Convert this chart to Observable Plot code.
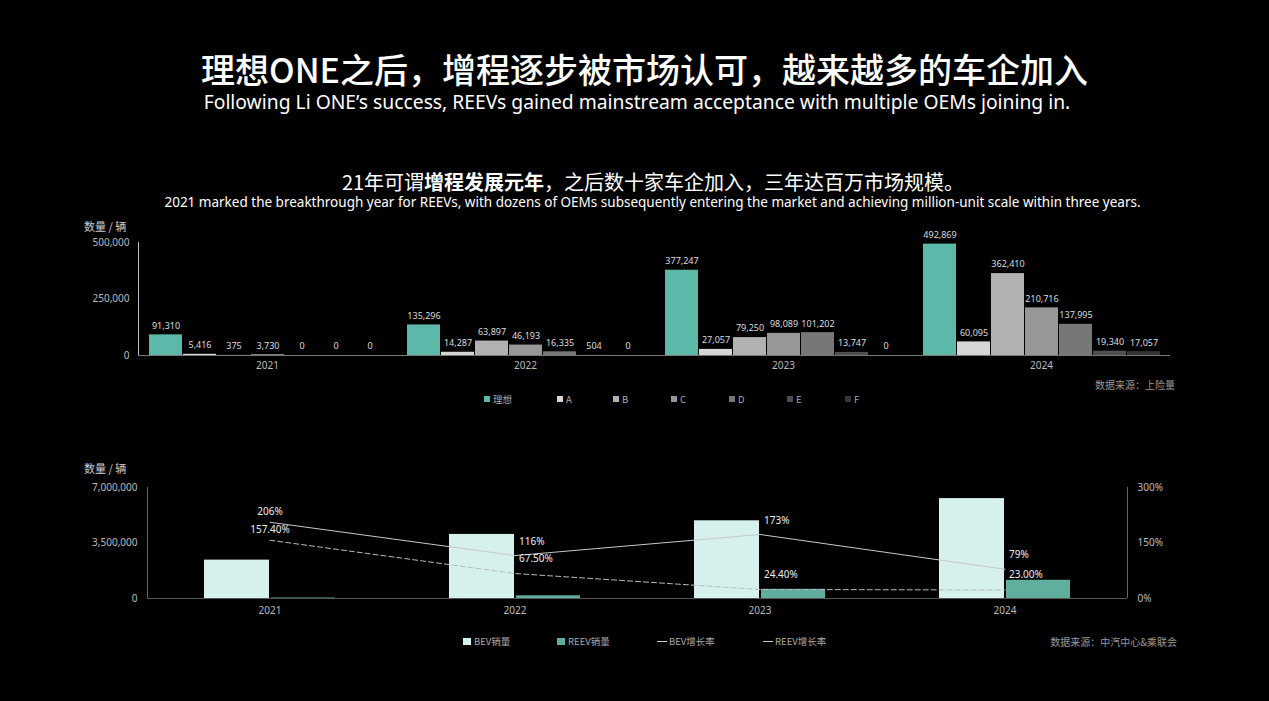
<!DOCTYPE html>
<html><head><meta charset="utf-8">
<script src="https://cdn.jsdelivr.net/npm/d3@7"></script>
<script src="https://cdn.jsdelivr.net/npm/@observablehq/plot@0.6"></script>
<style>
body{margin:0;background:#000;width:1269px;height:701px;overflow:hidden;position:relative;font-family:"Noto Sans CJK SC","Noto Sans",sans-serif;color:#fff}
.abs{position:absolute;white-space:nowrap}
#title{left:10px;width:1269px;top:52px;text-align:center;font-size:34px;line-height:34px;font-weight:500}
#sub{left:0;width:1274px;top:92px;text-align:center;font-size:19.3px;line-height:20px;font-family:"Noto Sans",sans-serif}
#head{left:0;width:1306px;top:171px;text-align:center;font-size:20px;line-height:22px}
#head b{font-weight:700}
#ehead{left:0;width:1305px;top:195px;text-align:center;font-size:13.5px;line-height:14px;font-family:"Noto Sans",sans-serif}
.ylab{font-size:11px;color:#ccc;left:84px}
.src{font-size:10px;color:#999;right:92px}
.leg{font-size:9.5px;color:#aaa;display:flex;align-items:center}
.sw{display:inline-block;width:6px;height:6px;margin-right:3px}
.ln{display:inline-block;width:10px;height:1px;background:#ccc;margin-right:2px}
#top{left:0;top:215px}
#bot{left:0;top:475px}
</style></head><body>
<div id="title" class="abs">理想ONE之后，增程逐步被市场认可，越来越多的车企加入</div>
<div id="sub" class="abs">Following Li ONE’s success, REEVs gained mainstream acceptance with multiple OEMs joining in.</div>
<div id="head" class="abs">21年可谓<b>增程发展元年</b>，之后数十家车企加入，三年达百万市场规模。</div>
<div id="ehead" class="abs">2021 marked the breakthrough year for REEVs, with dozens of OEMs subsequently entering the market and achieving million-unit scale within three years.</div>
<div class="abs ylab" style="top:218px">数量 / 辆</div>
<div class="abs ylab" style="top:460px">数量 / 辆</div>
<div id="top" class="abs"></div>
<div id="bot" class="abs"></div>
<div class="abs src" style="top:377px;right:94px">数据来源：上险量</div>
<div class="abs src" style="top:634px;right:92px">数据来源：中汽中心&amp;乘联会</div>
<script>
// ---- data: top chart (上险量) ----
const years = [2021, 2022, 2023, 2024];
const brands = ["理想", "A", "B", "C", "D", "E", "F"];
const brandColors = ["#5cb8a8", "#d6d6d6", "#b2b2b2", "#979797", "#777777", "#4f4f4f", "#363636"];
const sales2021 = [91310, 5416, 375, 3730, 0, 0, 0];
const sales2022 = [135296, 14287, 63897, 46193, 16335, 504, 0];
const sales2023 = [377247, 27057, 79250, 98089, 101202, 13747, 0];
const sales2024 = [492869, 60095, 362410, 210716, 137995, 19340, 17057];
const topTicks = [0, 250000, 500000];

// ---- data: bottom chart ----
const bevSales = [2420000, 4040000, 4900000, 6300000];
const reevSales = [30000, 170000, 580000, 1150000];
const bevGrowth = [206, 116, 173, 79];
const reevGrowth = [157.4, 67.5, 24.4, 23.0];
const bevGrowthLabels = ["206%", "116%", "173%", "79%"];
const reevGrowthLabels = ["157.40%", "67.50%", "24.40%", "23.00%"];
const leftTicks = [0, 3500000, 7000000];
const rightMax = 300;
const seriesNames = ["BEV销量", "REEV销量", "BEV增长率", "REEV增长率"];
const seriesColors = ["#d6f0ed", "#5fae9e", "#cccccc", "#cccccc"];

const fmt = d3.format(",");
const font = '"Noto Sans","Noto Sans CJK SC",sans-serif';

const allSales = [sales2021, sales2022, sales2023, sales2024];
const topData = years.flatMap((y, i) => brands.map((b, j) => ({year: y, brand: b, value: allSales[i][j]})));

const topChart = Plot.plot({
  width: 1269, height: 165,
  marginLeft: 137, marginRight: 98, marginTop: 27, marginBottom: 25,
  style: {background: "transparent", color: "#bbb", fontSize: "10px", fontFamily: font},
  fx: {domain: years, padding: 0, label: null, axis: "bottom", tickSize: 0, tickPadding: 6, tickFormat: "d"},
  x: {domain: brands, paddingInner: 0.04, paddingOuter: 0.255, axis: null},
  y: {domain: [0, 500000], ticks: topTicks, tickFormat: fmt, tickSize: 0, tickPadding: 9, label: null, line: true},
  color: {domain: brands, range: brandColors},
  marks: [
    Plot.barY(topData, {fx: "year", x: "brand", y: "value", fill: "brand"}),
    Plot.ruleY([0], {stroke: "#777"}),
    Plot.text(topData, {fx: "year", x: "brand", y: "value", text: d => fmt(d.value), dy: -9, fill: "#ddd", fontSize: 9})
  ]
});
document.getElementById("top").append(topChart);

const bottomData = years.map((y, i) => ({
  year: y, bev: bevSales[i], reev: reevSales[i],
  bevG: bevGrowth[i] / rightMax * leftTicks[2], reevG: reevGrowth[i] / rightMax * leftTicks[2],
  bevL: bevGrowthLabels[i], reevL: reevGrowthLabels[i], first: i === 0
}));

const botChart = Plot.plot({
  width: 1269, height: 150,
  marginLeft: 147, marginRight: 142, marginTop: 12, marginBottom: 27,
  style: {background: "transparent", color: "#bbb", fontSize: "10px", fontFamily: font},
  x: {domain: years, padding: 0, label: null},
  y: {domain: [0, leftTicks[2]], axis: null},
  marks: [
    Plot.axisX({tickSize: 0, tickPadding: 8, label: null, tickFormat: "d"}),
    Plot.axisY(leftTicks, {anchor: "left", tickFormat: fmt, tickSize: 0, tickPadding: 10, label: null}),
    Plot.axisY(leftTicks, {anchor: "right", tickFormat: d => Math.round(d / leftTicks[2] * rightMax) + "%", tickSize: 0, tickPadding: 10, label: null}),
    Plot.ruleX([years[0]], {y1: 0, y2: leftTicks[2], stroke: "#666", dx: -122.5}),
    Plot.ruleX([years[3]], {y1: 0, y2: leftTicks[2], stroke: "#666", dx: 122.5}),
    Plot.barY(bottomData, {x: "year", y: "bev", fill: seriesColors[0], insetLeft: 57, insetRight: 123}),
    Plot.barY(bottomData, {x: "year", y: "reev", fill: seriesColors[1], insetLeft: 124, insetRight: 57}),
    Plot.ruleY([0], {stroke: "#555"}),
    Plot.line(bottomData, {x: "year", y: "bevG", stroke: "#c8c8c8", strokeWidth: 1}),
    Plot.line(bottomData, {x: "year", y: "reevG", stroke: "#bbbbbb", strokeWidth: 1, strokeDasharray: "5,3"}),
    Plot.text(bottomData.filter(d => d.first), {x: "year", y: "bevG", text: "bevL", dy: -10, fill: "#eee", fontSize: 10}),
    Plot.text(bottomData.filter(d => d.first), {x: "year", y: "reevG", text: "reevL", dy: -10, fill: "#eee", fontSize: 10}),
    Plot.text(bottomData.filter(d => !d.first), {x: "year", y: "bevG", text: "bevL", dy: -14, dx: 4, textAnchor: "start", fill: "#eee", fontSize: 10}),
    Plot.text(bottomData.filter(d => !d.first), {x: "year", y: "reevG", text: "reevL", dy: -15, dx: 4, textAnchor: "start", fill: "#eee", fontSize: 10})
  ]
});
document.getElementById("bot").append(botChart);

// legends
const leg1X = [484, 557, 613, 671, 729, 787, 845];
brands.forEach((b, i) => {
  const el = document.createElement("div");
  el.className = "abs leg";
  el.style.left = leg1X[i] + "px"; el.style.top = "392px";
  el.innerHTML = `<span class="sw" style="background:${brandColors[i]}"></span>${b}`;
  document.body.append(el);
});
const leg2X = [463, 557, 657, 763];
seriesNames.forEach((s, i) => {
  const el = document.createElement("div");
  el.className = "abs leg";
  el.style.left = leg2X[i] + "px"; el.style.top = "634px";
  el.innerHTML = (i < 2 ? `<span class="sw" style="width:8px;height:7px;background:${seriesColors[i]}"></span>` : `<span class="ln" style="background:${seriesColors[i]}"></span>`) + s;
  document.body.append(el);
});
</script>
</body></html>
